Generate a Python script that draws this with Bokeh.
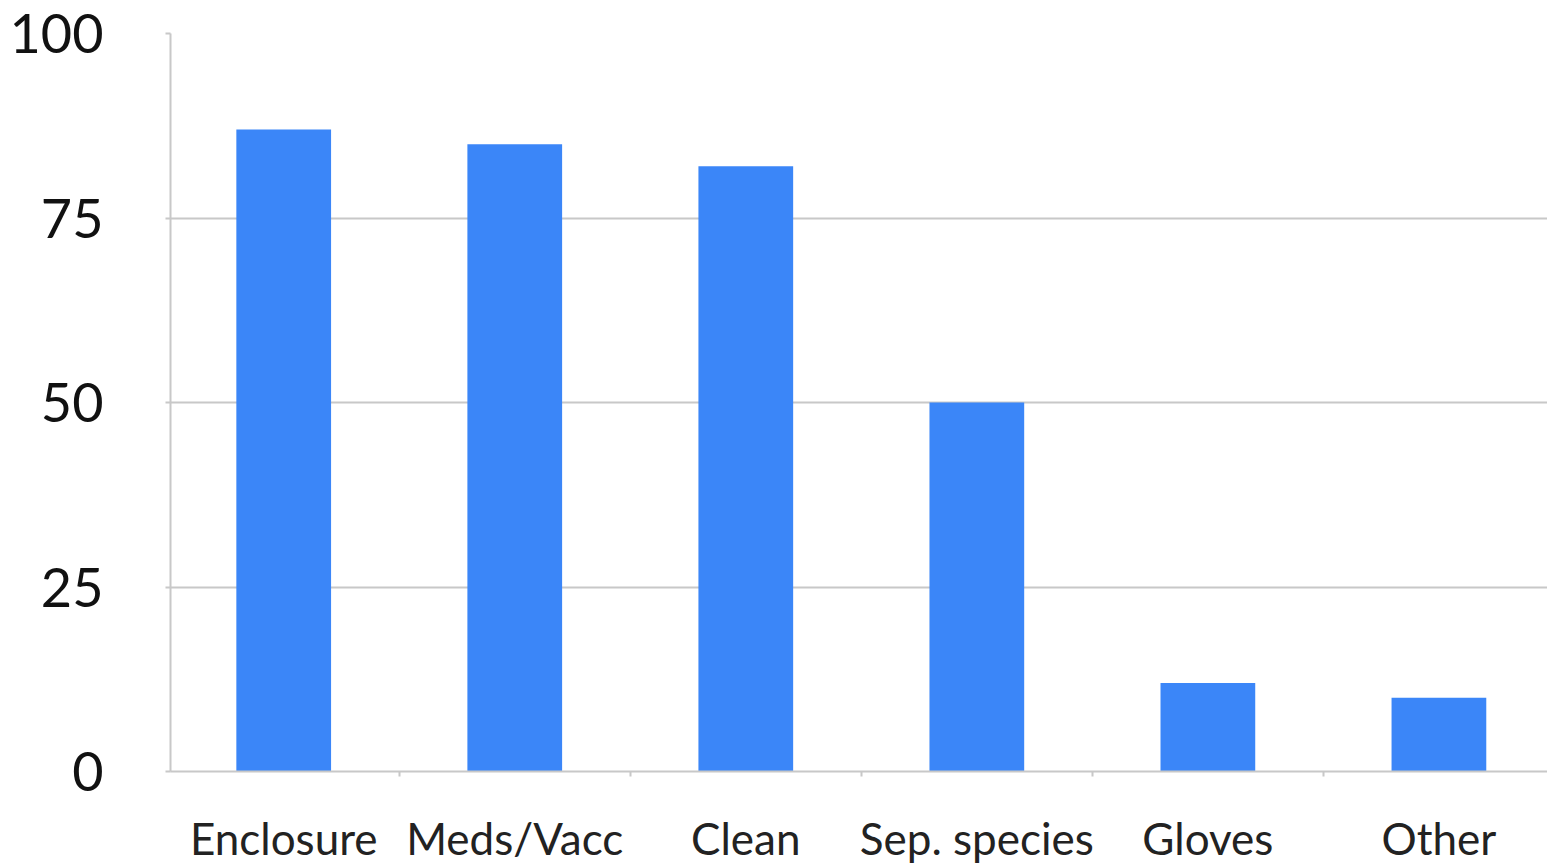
from bokeh.plotting import figure
from bokeh.models import ColumnDataSource, Range1d, FixedTicker
from bokeh.embed import file_html
from bokeh.resources import INLINE
import numpy as np

# Share of respondents (%) reporting each practice
categories = ["Enclosure", "Meds/Vacc", "Clean", "Sep. species", "Gloves", "Other"]
percent = [87, 85, 82, 50, 12, 10]
y_ticks = [0, 25, 50, 75, 100]

pos = np.arange(len(categories)) + 0.5
src = ColumnDataSource(dict(x=pos, top=percent, cat=categories))

p = figure(width=1547, height=866, output_backend="svg", toolbar_location=None,
           x_range=Range1d(0.01, 5.97), y_range=Range1d(0, 100),
           min_border_left=170, min_border_right=0, min_border_top=33, min_border_bottom=95)
p.outline_line_color = None
p.background_fill_color = "white"
p.border_fill_color = "white"

p.vbar(x="x", top="top", width=0.41, source=src, fill_color="#3b86f8", line_color=None)

# x axis: labels at category centres, small ticks on category boundaries
xt = FixedTicker(ticks=list(pos), minor_ticks=list(range(0, 7)))
p.xaxis.ticker = xt
p.xaxis.major_label_overrides = {float(x): c for x, c in zip(pos, categories)}
p.xaxis.major_tick_line_color = None
p.xaxis.major_tick_out = 0
p.xaxis.major_tick_in = 0
p.xaxis.minor_tick_line_color = "#c8c8c8"
p.xaxis.minor_tick_line_width = 2
p.xaxis.minor_tick_out = 5
p.xaxis.minor_tick_in = 0
p.xaxis.axis_line_color = "#c8c8c8"
p.xaxis.axis_line_width = 2
p.xaxis.major_label_text_font = "Lato"
p.xaxis.major_label_text_font_size = "44px"
p.xaxis.major_label_text_color = "#222222"
p.xaxis.major_label_standoff = 35
p.xgrid.grid_line_color = None

p.yaxis.ticker = FixedTicker(ticks=y_ticks)
p.yaxis.minor_tick_line_color = None
p.yaxis.major_tick_line_color = "#c8c8c8"
p.yaxis.major_tick_line_width = 2
p.yaxis.major_tick_out = 5
p.yaxis.major_tick_in = 0
p.yaxis.axis_line_color = "#c8c8c8"
p.yaxis.axis_line_width = 2
p.yaxis.major_label_text_font = "Lato"
p.yaxis.major_label_text_font_size = "54px"
p.yaxis.major_label_text_color = "#111111"
p.yaxis.major_label_standoff = 62
p.ygrid.grid_line_color = "#c8c8c8"
p.ygrid.grid_line_width = 2

open("out.html", "w").write(file_html(p, INLINE))
